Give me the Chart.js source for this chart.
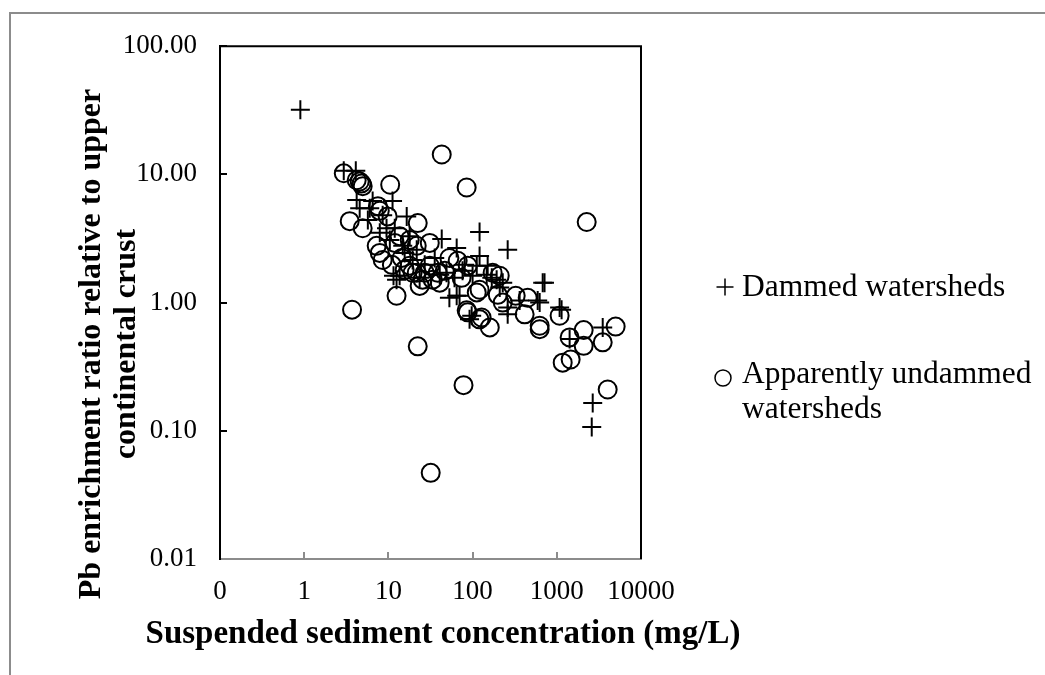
<!DOCTYPE html>
<html>
<head>
<meta charset="UTF-8">
<title>Pb enrichment vs suspended sediment</title>
<script src="https://cdn.jsdelivr.net/npm/chart.js"></script>
<style>
  body { margin: 0; background: #ffffff; }
  #wrap { position: relative; width: 1045px; height: 675px; }
</style>
</head>
<body>
<div id="wrap"><canvas id="chart" width="1045" height="675"></canvas></div>
<script>
const seriesNames = ['Dammed watersheds', 'Apparently undammed watersheds'];
const xTitle = 'Suspended sediment concentration (mg/L)';
const yTitle = ['Pb enrichment ratio relative to upper', 'continental crust'];

// dammed watersheds (crosses)
const dammedX = [0.9, 2.95, 4.1, 4.2, 6.5, 11.2, 16.5, 5.7, 13.6, 12.5, 7.9, 10.4, 14.8, 17.9, 21.7, 11.5,
  121, 261, 43, 64.7, 680, 715, 626, 1080, 1140, 1420, 3510, 2670, 2600, 97.5, 261, 261, 64.7, 70, 53,
  80.5, 121, 151, 193, 362, 49, 228, 112, 76, 100, 92, 593, 147, 169, 210,
  6.0, 8.55, 11.9, 15.6, 19.4, 27, 35.5, 23.5, 40.7, 61, 4.56, 9.5];
const dammedY = [32, 10.7, 10.7, 6.3, 6.2, 6.2, 4.7, 4.4, 1.62, 1.51, 3.5, 3.08, 2.77, 3.3, 2.58, 1.62,
  3.55, 2.58, 3.13, 2.67, 1.43, 1.43, 1.0, 0.915, 0.88, 0.52, 0.64, 0.165, 0.107, 0.79, 0.81, 0.915, 1.13, 1.13, 1.09,
  1.97, 2.31, 1.94, 1.51, 1.04, 1.71, 1.43, 1.94, 1.77, 1.62, 0.74, 1.04, 1.65, 1.56, 1.31,
  5.45, 4.8, 3.8, 2.44, 2.15, 1.97, 2.23, 1.56, 1.65, 1.56, 5.45, 3.8];

// apparently undammed watersheds (circles)
const undammedX = [2.95, 4.2, 4.56, 4.8, 4.95, 10.5, 3.47, 4.95, 7.5, 7.9, 9.8, 7.26, 7.9, 8.55, 13.6, 17.9,
  21.7, 17.9, 21.7, 25.5, 31, 22.3, 31, 12.5, 3.7, 22.3, 78, 31.8, 43, 85, 2265, 4020, 5000, 3510, 2085, 2085,
  1420, 1175, 1460, 626, 626, 1080, 415, 325, 228, 199, 160, 128, 87.5, 210, 173, 121, 112, 87.5, 66.5, 38.5,
  33.6, 23.5, 19.4, 15.6, 121, 85, 11.9, 14.4, 11, 27, 46.7, 40.7, 451, 53, 74];
const undammedY = [10.2, 9.0, 8.8, 8.5, 8.1, 8.3, 4.32, 3.8, 5.65, 5.2, 4.7, 2.77, 2.44, 2.15, 3.3, 3.08,
  2.77, 1.94, 1.71, 1.51, 1.94, 4.17, 2.92, 1.13, 0.88, 0.456, 0.227, 0.047, 14.3, 7.9, 4.25, 0.21, 0.65, 0.49, 0.61, 0.46,
  0.535, 0.34, 0.36, 0.66, 0.62, 0.79, 0.81, 1.13, 1.0, 1.15, 0.64, 0.765, 0.84, 1.62, 1.71, 1.26, 1.2, 1.94, 2.12, 1.71,
  1.51, 1.35, 1.71, 1.8, 0.74, 0.87, 2.92, 2.23, 1.97, 1.71, 1.77, 1.43, 1.09, 2.23, 1.56];

const xTicks = [0.1, 1, 10, 100, 1000, 10000];
const xTickLabels = ['0', '1', '10', '100', '1000', '10000'];
const yTicks = [0.01, 0.1, 1, 10, 100];
const yTickLabels = ['0.01', '0.10', '1.00', '10.00', '100.00'];

const serif = "'Liberation Serif', 'Times New Roman', serif";

// outer frame, plot box top/right, axis titles and the legend on the right
const framePlugin = {
  id: 'frame',
  beforeDraw(chart) {
    const ctx = chart.ctx;
    ctx.save();
    ctx.strokeStyle = '#8c8c8c';
    ctx.lineWidth = 2;
    ctx.beginPath();
    ctx.moveTo(10, 2000);
    ctx.lineTo(10, 13);
    ctx.lineTo(2000, 13);
    ctx.stroke();
    ctx.restore();
  },
  afterDraw(chart) {
    const ctx = chart.ctx;
    const a = chart.chartArea;
    ctx.save();
    ctx.strokeStyle = '#000';
    ctx.lineWidth = 2;
    ctx.beginPath();
    ctx.moveTo(a.left, a.top);
    ctx.lineTo(a.right, a.top);
    ctx.lineTo(a.right, a.bottom);
    ctx.stroke();

    // axis titles (wider than the plot box, so drawn here)
    ctx.fillStyle = '#000';
    ctx.font = 'bold 33px ' + serif;
    ctx.textAlign = 'center';
    ctx.textBaseline = 'middle';
    ctx.fillText(xTitle, 443, 634);
    ctx.font = 'bold 32px ' + serif;
    ctx.save();
    ctx.translate(92, 344);
    ctx.rotate(-Math.PI / 2);
    ctx.fillText(yTitle[0], 0, 0);
    ctx.restore();
    ctx.save();
    ctx.translate(127, 344);
    ctx.rotate(-Math.PI / 2);
    ctx.fillText(yTitle[1], 0, 0);
    ctx.restore();

    // legend
    ctx.strokeStyle = '#000';
    ctx.fillStyle = 'rgba(0,0,0,0)';
    ctx.lineWidth = 1.5;
    Chart.helpers.drawPoint(ctx, { pointStyle: 'cross', radius: 8.5, borderWidth: 1.5 }, 725, 287);
    Chart.helpers.drawPoint(ctx, { pointStyle: 'circle', radius: 8, borderWidth: 1.5 }, 723, 378);

    ctx.fillStyle = '#000';
    ctx.font = '31.5px ' + serif;
    ctx.textAlign = 'left';
    ctx.textBaseline = 'alphabetic';
    ctx.fillText(seriesNames[0], 742, 296);
    ctx.fillText('Apparently undammed', 742, 383);
    ctx.fillText('watersheds', 742, 418);
    ctx.restore();
  }
};

new Chart(document.getElementById('chart').getContext('2d'), {
  type: 'scatter',
  data: {
    datasets: [
      {
        label: seriesNames[0],
        data: dammedX.map((x, i) => ({ x, y: dammedY[i] })),
        pointStyle: 'cross',
        pointRadius: 9.5,
        borderColor: '#000',
        backgroundColor: 'rgba(0,0,0,0)',
        borderWidth: 2
      },
      {
        label: seriesNames[1],
        data: undammedX.map((x, i) => ({ x, y: undammedY[i] })),
        pointStyle: 'circle',
        pointRadius: 9,
        borderColor: '#000',
        backgroundColor: 'rgba(0,0,0,0)',
        borderWidth: 2
      }
    ]
  },
  options: {
    responsive: false,
    animation: false,
    layout: { padding: { left: 0, top: 42, right: 404, bottom: 0 } },
    plugins: {
      legend: { display: false },
      tooltip: { enabled: false }
    },
    scales: {
      x: {
        type: 'logarithmic',
        min: 0.1,
        max: 10000,
        afterBuildTicks: s => { s.ticks = xTicks.map(v => ({ value: v, major: true })); },
        afterFit: s => { s.height = 116; },
        ticks: {
          callback: (v, i) => xTickLabels[i],
          color: '#000',
          font: { family: serif, size: 27 },
          padding: 24,
          maxRotation: 0,
          autoSkip: false
        },
        grid: { drawOnChartArea: false, tickLength: -7, color: '#8c8c8c', lineWidth: 2 },
        border: { color: '#8c8c8c', width: 2 }
      },
      y: {
        type: 'logarithmic',
        min: 0.01,
        max: 100,
        afterBuildTicks: s => { s.ticks = yTicks.map(v => ({ value: v, major: true })); },
        afterFit: s => { s.width = 220; },
        ticks: {
          callback: (v, i) => yTickLabels[i],
          color: '#000',
          font: { family: serif, size: 27 },
          padding: 30,
          autoSkip: false
        },
        grid: { drawOnChartArea: false, tickLength: -7, color: '#000', lineWidth: 2 },
        border: { color: '#000', width: 2 }
      }
    }
  },
  plugins: [framePlugin]
});
</script>
</body>
</html>
